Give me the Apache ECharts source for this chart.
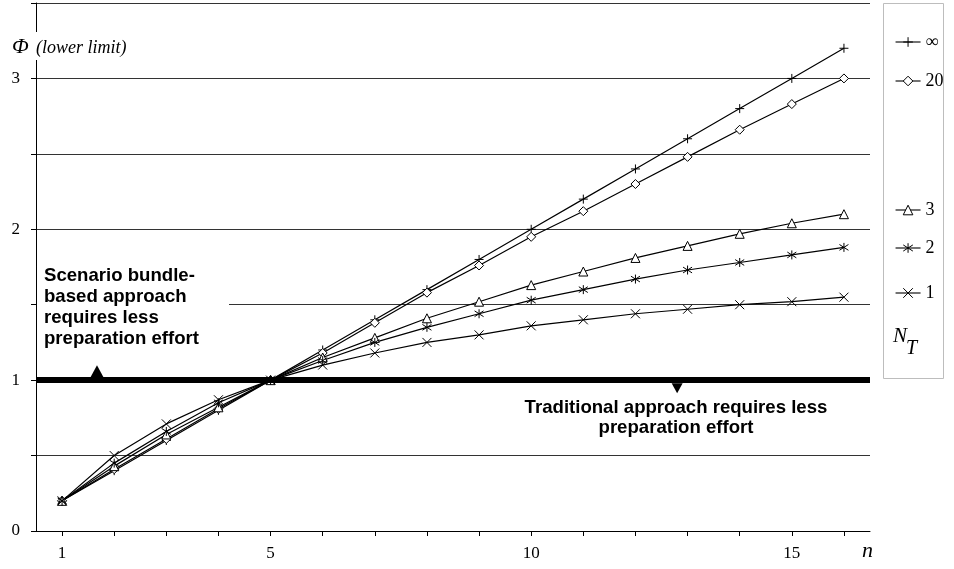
<!DOCTYPE html>
<html>
<head>
<meta charset="utf-8">
<script src="https://cdn.jsdelivr.net/npm/echarts@6/dist/echarts.min.js"></script>
<style>html,body{margin:0;padding:0;background:#fff}#c{width:954px;height:569px}</style>
</head>
<body>
<div id="c"></div>
<script>
// ---- data ----
var nValues = [1,2,3,4,5,6,7,8,9,10,11,12,13,14,15,16];
var tickValues = [1,2,3,4,5,6,7,8,9,10,11,12,13,14,15,16];
var xLabelValues = [1,5,10,15];
var yLabelValues = [0,1,2,3];
var seriesNames = ['\u221E','20','3','2','1'];
var phiInf = [0.2,0.4,0.6,0.8,1.0,1.2,1.4,1.6,1.8,2.0,2.2,2.4,2.6,2.8,3.0,3.2];
var phi20  = [0.2,0.41,0.61,0.81,1.0,1.18,1.38,1.58,1.76,1.95,2.12,2.30,2.48,2.66,2.83,3.0];
var phi3   = [0.2,0.43,0.64,0.82,1.0,1.15,1.28,1.41,1.52,1.63,1.72,1.81,1.89,1.97,2.04,2.10];
var phi2   = [0.2,0.45,0.66,0.85,1.0,1.13,1.25,1.35,1.44,1.53,1.60,1.67,1.73,1.78,1.83,1.88];
var phi1   = [0.2,0.5,0.71,0.87,1.0,1.10,1.18,1.25,1.30,1.36,1.40,1.44,1.47,1.50,1.52,1.55];
var thresholdValue = 1;
var upArrowN = 1.67, downArrowN = 12.8;

var pairs = function(arr){ return nValues.map(function(n,i){ return [n, arr[i]]; }); };

var SERIF = '"Liberation Serif","Times New Roman",serif';
var SANS = '"Liberation Sans",Arial,sans-serif';

var symPlus = 'path://M0,5L10,5M5,0L5,10';
var symX = 'path://M0,0L10,10M10,0L0,10';
var symStar = 'path://M5,0L5,10M0.8,1.8L9.2,8.2M9.2,1.8L0.8,8.2';

function mk(name, arr, symbol, extra){
  var s = {
    name: name, type: 'line', data: pairs(arr),
    symbol: symbol, symbolSize: 9, showSymbol: true,
    lineStyle: {color: '#000', width: 1.2},
    itemStyle: {color: '#fff', borderColor: '#000', borderWidth: 1},
    emphasis: {disabled: true},
    z: 3
  };
  if (extra) for (var k in extra) s[k] = extra[k];
  return s;
}

var legendTops = [33, 72, 201, 239, 284];
var legends = seriesNames.map(function(nm, i){
  return {
    data: [nm], left: 895, top: legendTops[i], orient: 'vertical',
    itemWidth: 25, itemHeight: 12, itemGap: 0, padding: 0,
    selectedMode: false,
    lineStyle: {width: 1.1, color: '#000'},
    itemStyle: {borderWidth: 1, borderColor: '#000'},
    textStyle: {fontFamily: SERIF, fontSize: 18, color: '#000'}
  };
});

var chart = echarts.init(document.getElementById('c'), null, {renderer: 'canvas'});
chart.setOption({
  animation: false,
  backgroundColor: '#fff',
  grid: {left: 36, right: 84, top: 3, bottom: 38, containLabel: false, outerBoundsMode: 'none'},
  legend: legends,
  xAxis: {
    type: 'value', min: 0.5, max: 16.5,
    axisLine: {show: true, lineStyle: {color: '#000', width: 1}},
    axisTick: {show: true, length: 5, customValues: tickValues, lineStyle: {color: '#000'}},
    axisLabel: {customValues: xLabelValues, margin: 14, fontFamily: SERIF, fontSize: 17, color: '#000'},
    splitLine: {show: false}
  },
  yAxis: {
    type: 'value', min: 0, max: 3.5, interval: 0.5,
    axisLine: {show: true, lineStyle: {color: '#000', width: 1}},
    axisTick: {show: true, length: 5, lineStyle: {color: '#000'}},
    axisLabel: {margin: 16, fontFamily: SERIF, fontSize: 17, color: '#000',
      formatter: function(v){ return yLabelValues.indexOf(v) >= 0 ? String(v) : ''; }},
    splitLine: {show: true, lineStyle: {color: '#333', width: 1}}
  },
  series: [
    mk(seriesNames[0], phiInf, symPlus, {
      markLine: {
        silent: true, symbol: 'none', label: {show: false},
        lineStyle: {color: '#000', width: 6, type: 'solid'},
        data: [{yAxis: thresholdValue}], z: 4
      },
      markPoint: {
        silent: true, label: {show: false},
        itemStyle: {color: '#000'},
        data: [
          {coord: [upArrowN, thresholdValue], symbol: 'triangle', symbolSize: [13, 12], symbolOffset: [0, -9]},
          {coord: [downArrowN, thresholdValue], symbol: 'triangle', symbolRotate: 180, symbolSize: [11, 10], symbolOffset: [0, 8]}
        ]
      }
    }),
    mk(seriesNames[1], phi20, 'diamond'),
    mk(seriesNames[2], phi3, 'triangle'),
    mk(seriesNames[3], phi2, symStar),
    mk(seriesNames[4], phi1, symX)
  ],
  graphic: [
    {type: 'rect', z: 0, zlevel: 0, silent: true,
     shape: {x: 883.5, y: 3.5, width: 60, height: 375},
     style: {fill: 'none', stroke: '#bdbdbd', lineWidth: 1}},
    {type: 'rect', z: 1, silent: true,
     shape: {x: 37, y: 263, width: 192, height: 88},
     style: {fill: '#fff'}},
    {type: 'text', z: 5, left: 44, top: 265, silent: true,
     style: {text: 'Scenario bundle-\nbased approach\nrequires less\npreparation effort',
       font: 'bold 18.6px ' + SANS, lineHeight: 21, fill: '#000'}},
    {type: 'text', z: 5, silent: true, x: 676, y: 398,
     style: {text: 'Traditional approach requires less\npreparation effort',
       font: 'bold 18.6px ' + SANS, lineHeight: 20, fill: '#000', align: 'center', verticalAlign: 'top'}},
    {type: 'rect', z: 6, silent: true, shape: {x: 33, y: 32, width: 6, height: 28}, style: {fill: '#fff'}},
    {type: 'text', z: 7, silent: true, x: 12, y: 47,
     style: {text: '\u03A6', font: 'italic 22px ' + SERIF, fill: '#000', verticalAlign: 'middle'}},
    {type: 'text', z: 7, silent: true, x: 36, y: 48,
     style: {text: '(lower limit)', font: 'italic 18px ' + SERIF, fill: '#000', verticalAlign: 'middle'}},
    {type: 'text', z: 7, silent: true, x: 862, y: 551,
     style: {text: 'n', font: 'italic 22px ' + SERIF, fill: '#000', verticalAlign: 'middle'}},
    {type: 'text', z: 7, silent: true, x: 893, y: 336,
     style: {text: 'N', font: 'italic 21px ' + SERIF, fill: '#000', verticalAlign: 'middle'}},
    {type: 'text', z: 7, silent: true, x: 906, y: 349,
     style: {text: 'T', font: 'italic 20px ' + SERIF, fill: '#000', verticalAlign: 'middle'}}
  ]
});
</script>
</body>
</html>
